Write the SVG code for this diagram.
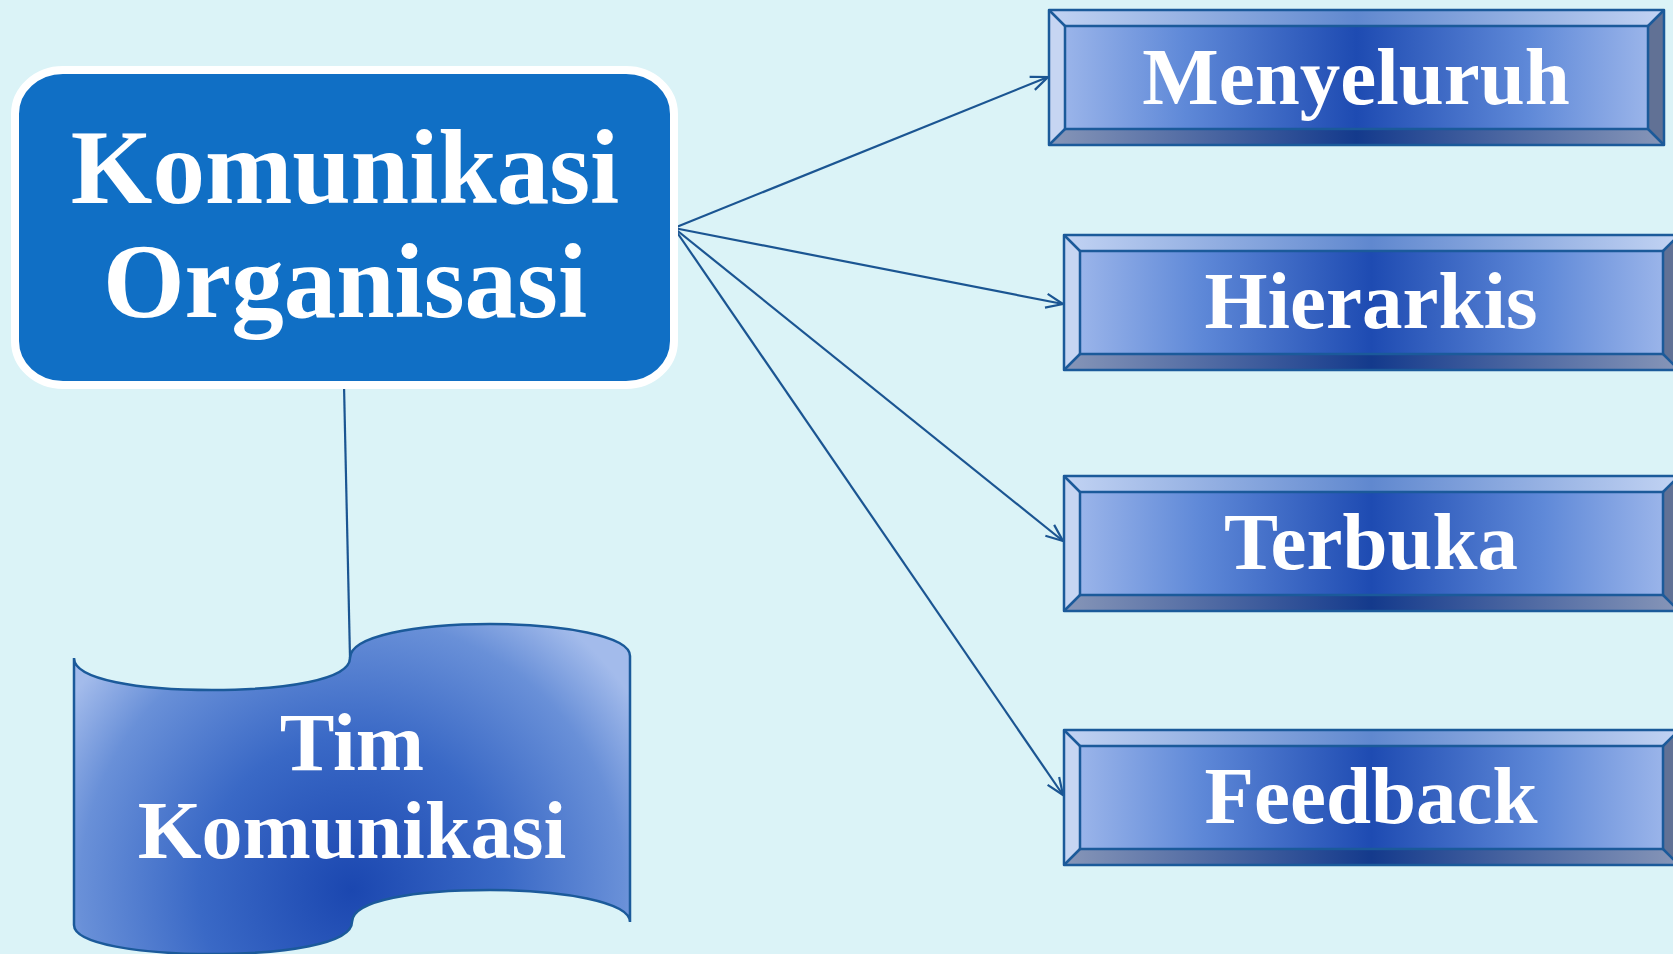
<svg xmlns="http://www.w3.org/2000/svg" width="1673" height="954" viewBox="0 0 1673 954">
<defs>
<style>
.t{font-family:"Liberation Serif","DejaVu Serif",serif;font-weight:bold;fill:#ffffff;text-anchor:middle}
.edge{stroke:#1b5592;stroke-width:2.2;fill:none}
.bv{stroke:#1b5a9a;stroke-width:2.5;stroke-linejoin:round}
</style>
<linearGradient id="face" x1="0" y1="0" x2="1" y2="0">
<stop offset="0" stop-color="#a2baec"/>
<stop offset="0.22" stop-color="#5f89d8"/>
<stop offset="0.5" stop-color="#1e4bb2"/>
<stop offset="0.78" stop-color="#5f89d8"/>
<stop offset="1" stop-color="#a2baec"/>
</linearGradient>
<linearGradient id="topb" x1="0" y1="0" x2="1" y2="0">
<stop offset="0" stop-color="#c2d3f3"/>
<stop offset="0.5" stop-color="#6088cf"/>
<stop offset="1" stop-color="#c2d3f3"/>
</linearGradient>
<linearGradient id="botb" x1="0" y1="0" x2="1" y2="0">
<stop offset="0" stop-color="#8796b8"/>
<stop offset="0.5" stop-color="#143a8c"/>
<stop offset="1" stop-color="#8796b8"/>
</linearGradient>
<radialGradient id="wave" cx="352" cy="890" r="340" gradientUnits="userSpaceOnUse">
<stop offset="0" stop-color="#1b47b0"/>
<stop offset="0.45" stop-color="#3a69c6"/>
<stop offset="0.8" stop-color="#6990d8"/>
<stop offset="1" stop-color="#a3bbeb"/>
</radialGradient>
<marker id="arr" viewBox="-20 -10 22 20" refX="0" refY="0" markerWidth="22" markerHeight="20" markerUnits="userSpaceOnUse" orient="auto">
<path d="M-17,-7 L0,0 L-17,7" fill="none" stroke="#1b5592" stroke-width="2.2"/>
</marker>
<g id="bevelShape">
<rect x="0" y="0" width="615" height="135" fill="url(#face)"/>
<polygon points="0,0 615,0 599,16 16,16" fill="url(#topb)"/>
<polygon points="0,135 615,135 599,119 16,119" fill="url(#botb)"/>
<polygon points="0,0 16,16 16,119 0,135" fill="#c6d5f2"/>
<polygon points="615,0 599,16 599,119 615,135" fill="#617195"/>
<rect x="0" y="0" width="615" height="135" fill="none" class="bv"/>
<rect x="16" y="16" width="583" height="103" fill="none" class="bv"/>
<path d="M0,0 L16,16 M615,0 L599,16 M0,135 L16,119 M615,135 L599,119" class="bv" fill="none"/>
</g>
</defs>
<rect width="1673" height="954" fill="#dbf3f7"/>

<g id="connectors">
<line class="edge" x1="674" y1="228" x2="1048" y2="77" marker-end="url(#arr)"/>
<line class="edge" x1="674" y1="228" x2="1063" y2="304" marker-end="url(#arr)"/>
<line class="edge" x1="674" y1="228" x2="1063" y2="541" marker-end="url(#arr)"/>
<line class="edge" x1="674" y1="228" x2="1063" y2="795" marker-end="url(#arr)"/>
<line class="edge" x1="344" y1="385" x2="350" y2="658"/>
</g>

<g id="komunikasi-organisasi">
<rect x="15" y="70" width="659" height="315" rx="48" ry="44" fill="#106fc5" stroke="#ffffff" stroke-width="8"/>
<text class="t" x="345" y="203" font-size="105">Komunikasi</text>
<text class="t" x="345" y="317" font-size="105">Organisasi</text>
</g>

<g id="menyeluruh">
<use href="#bevelShape" x="1049" y="10"/>
<text class="t" x="1356" y="104" font-size="81">Menyeluruh</text>
</g>
<g id="hierarkis">
<use href="#bevelShape" x="1064" y="235"/>
<text class="t" x="1371" y="328" font-size="81">Hierarkis</text>
</g>
<g id="terbuka">
<use href="#bevelShape" x="1064" y="476"/>
<text class="t" x="1371" y="569" font-size="81">Terbuka</text>
</g>
<g id="feedback">
<use href="#bevelShape" x="1064" y="730"/>
<text class="t" x="1371" y="823" font-size="81">Feedback</text>
</g>

<g id="tim-komunikasi">
<path d="M74,658 C74,680 140,690 212,690 C284,690 350,680 350,658 C350,636 416,624 490,624 C562,624 630,636 630,656 L630,922 C630,902 562,890 490,890 C416,890 352,900 352,922 C352,944 284,954 212,954 C140,954 74,944 74,925 Z" fill="url(#wave)" stroke="#1b5a9a" stroke-width="2.5"/>
<text class="t" x="352" y="770" font-size="82">Tim</text>
<text class="t" x="352" y="858" font-size="82">Komunikasi</text>
</g>
</svg>
